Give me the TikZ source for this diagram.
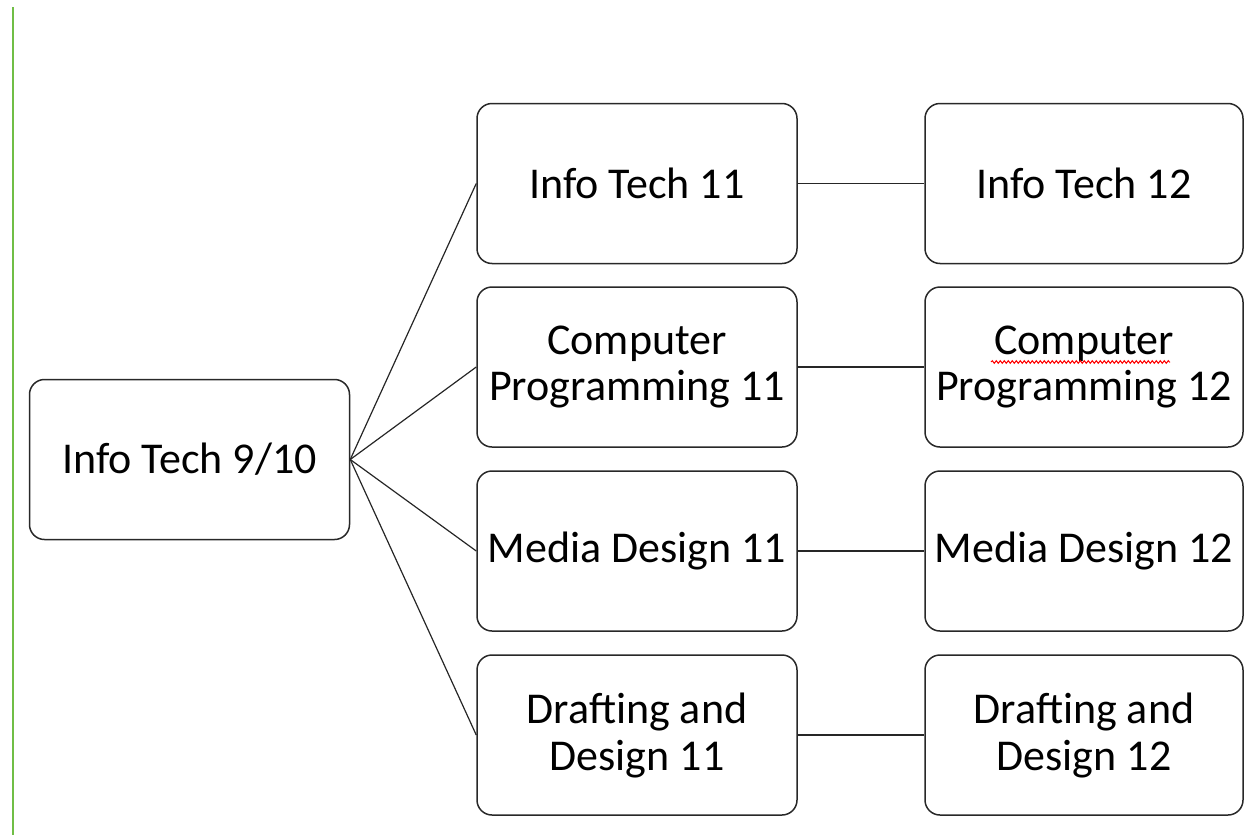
\documentclass[tikz,border=0pt]{standalone}
\usepackage{fontspec}
\setmainfont{Carlito}
\usetikzlibrary{decorations.pathmorphing}
\definecolor{edgegreen}{RGB}{112,190,70}
\definecolor{boxline}{RGB}{40,40,40}
\tikzset{
  box/.style={draw=boxline, line width=1.5pt, rounded corners=15pt, minimum width=320pt, minimum height=160pt, align=center, inner sep=0pt, font=\fontsize{44}{47}\selectfont},
  link/.style={draw=black!85, line width=1.2pt}
}
\begin{document}
\begin{tikzpicture}[x=1pt,y=-1pt]
\useasboundingbox (0,0) rectangle (1253,835);
\draw[edgegreen, line width=2pt] (13,7) -- (13,835);
\node[box] (root) at (189.5,459.5) {Info Tech 9/10};
\node[box] (it11) at (637,183.5) {Info Tech 11};
\node[box] (cp11) at (637,367) {Computer\\Programming 11};
\node[box] (md11) at (637,551) {Media Design 11};
\node[box] (dd11) at (637,735) {Drafting and\\Design 11};
\node[box, minimum width=318pt] (it12) at (1084,183.5) {Info Tech 12};
\node[box, minimum width=318pt] (cp12) at (1084,367) {Computer\\Programming 12};
\node[box, minimum width=318pt] (md12) at (1084,551) {Media Design 12};
\node[box, minimum width=318pt] (dd12) at (1084,735) {Drafting and\\Design 12};
\foreach \n in {it11,cp11,md11,dd11} \draw[link] (root.east) -- (\n.west);
\draw[link] (it11) -- (it12);
\draw[link] (cp11) -- (cp12);
\draw[link] (md11) -- (md12);
\draw[link] (dd11) -- (dd12);
\draw[red, line width=1pt, decorate, decoration={snake, amplitude=1.3pt, segment length=4pt}] (991,362) -- (1170,362);
\end{tikzpicture}
\end{document}
